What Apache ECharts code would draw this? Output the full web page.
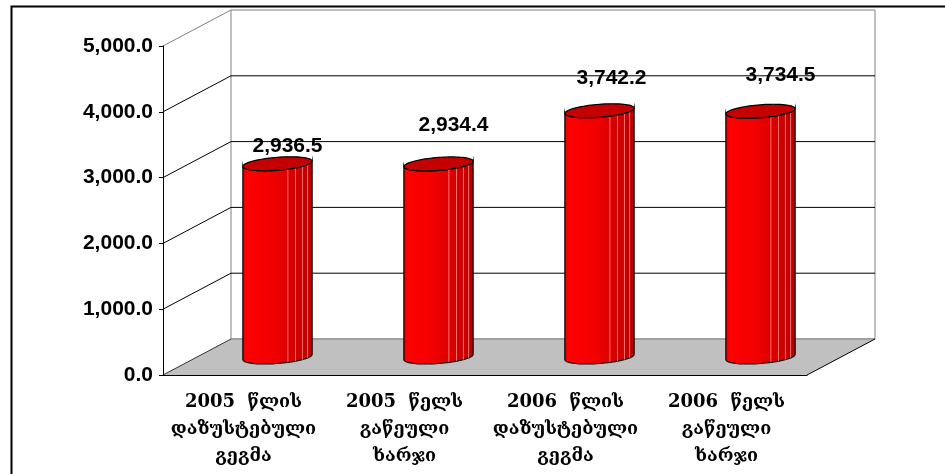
<!DOCTYPE html>
<html>
<head>
<meta charset="utf-8">
<script src="https://cdn.jsdelivr.net/npm/echarts@6/dist/echarts.min.js"></script>
<style>
  html, body { margin: 0; padding: 0; background: #fff; }
  #chart { width: 945px; height: 474px; }
</style>
</head>
<body>
<div id="chart"></div>
<script>
// data
const categories = [
  '2005  წლის\nდაზუსტებული\nგეგმა',
  '2005  წელს\nგაწეული\nხარჯი',
  '2006  წლის\nდაზუსტებული\nგეგმა',
  '2006  წელს\nგაწეული\nხარჯი'
]
const values = [2936.5, 2934.4, 3742.2, 3734.5]
const yTicks = [0, 1000, 2000, 3000, 4000, 5000]

// style: depth of the fake 3d box (px) and label nudges like the source
const DX = 68
const DY = -36
const labelNudge = [[10, -18], [15, -39], [12, -33], [20, -36]]

const fmt = v => v.toLocaleString('en-US', { minimumFractionDigits: 1, maximumFractionDigits: 1 })

const chart = echarts.init(document.getElementById('chart'))

// walls, floor and gridlines
const renderBox = (params, api) => {
  const cs = params.coordSys
  const x0 = cs.x
  const x1 = cs.x + cs.width
  const yb = api.coord([0, yTicks[0]])[1]
  const yt = api.coord([0, yTicks[yTicks.length - 1]])[1]
  const children = []
  // back wall
  children.push({
    type: 'rect',
    shape: { x: x0 + DX, y: yt + DY, width: cs.width, height: yb - yt },
    style: { fill: '#fff', stroke: '#808080', lineWidth: 1 }
  })
  // left wall top edge
  children.push({
    type: 'line',
    shape: { x1: x0, y1: yt, x2: x0 + DX, y2: yt + DY },
    style: { stroke: '#808080', lineWidth: 1 }
  })
  // gridlines
  yTicks.slice(1, -1).forEach(v => {
    const y = api.coord([0, v])[1]
    children.push({
      type: 'polyline',
      shape: { points: [[x0, y], [x0 + DX, y + DY], [x1 + DX, y + DY]] },
      style: { stroke: '#000', lineWidth: 1, fill: null }
    })
  })
  // floor
  children.push({
    type: 'polygon',
    shape: { points: [[x0, yb], [x1, yb], [x1 + DX, yb + DY], [x0 + DX, yb + DY]] },
    style: { fill: '#c0c0c0', stroke: null }
  })
  children.push({
    type: 'line',
    shape: { x1: x0 + DX, y1: yb + DY, x2: x1 + DX, y2: yb + DY },
    style: { stroke: '#808080', lineWidth: 1 }
  })
  children.push({
    type: 'line',
    shape: { x1: x0, y1: yb, x2: x0 + DX, y2: yb + DY },
    style: { stroke: '#333', lineWidth: 1 }
  })
  children.push({
    type: 'line',
    shape: { x1: x1, y1: yb, x2: x1 + DX, y2: yb + DY },
    style: { stroke: '#000', lineWidth: 1 }
  })
  return { type: 'group', children }
}

// cylinder for one bar
const renderCylinder = (params, api) => {
  const i = api.value(0)
  const v = api.value(1)
  const base = api.coord([i, 0])
  const top = api.coord([i, v])
  const band = api.size([1, 0])[0]
  const cx = base[0] + DX / 2
  const yb = base[1] + DY / 2
  const yt = top[1] + DY / 2
  const R = band * 0.215
  const a = 13
  const c = 7
  const r = Math.sqrt(R * R - a * a)
  const phi = Math.atan2(a, r)
  const pt = (t, y0) => [cx + r * Math.cos(t) + a * Math.sin(t), y0 - c * Math.sin(t)]
  const N = 40
  const body = []
  for (let k = 0; k <= N; k++) body.push(pt(phi + Math.PI + Math.PI * k / N, yt))
  for (let k = 0; k <= N; k++) body.push(pt(phi + 2 * Math.PI - Math.PI * k / N, yb))
  const cap = []
  for (let k = 0; k < 2 * N; k++) cap.push(pt(Math.PI * k / N, yt))

  const children = [{
    type: 'polygon',
    shape: { points: body },
    style: {
      fill: new echarts.graphic.LinearGradient(0, 0, 1, 0, [
        { offset: 0, color: '#e80000' },
        { offset: 0.06, color: '#ff0000' },
        { offset: 0.4, color: '#f40000' },
        { offset: 0.75, color: '#d40000' },
        { offset: 1, color: '#b80000' }
      ]),
      stroke: '#000',
      lineWidth: 1.2
    }
  }]
  // facet highlights
  ;[0.3, 0.52, 0.72, 0.87].forEach(k => {
    const t = phi - Math.acos(k)
    const p1 = pt(t, yt)
    const p2 = pt(t, yb)
    children.push({
      type: 'line',
      shape: { x1: p1[0], y1: p1[1], x2: p2[0], y2: p2[1] },
      style: { stroke: 'rgba(255,150,150,0.75)', lineWidth: 1 }
    })
  })
  children.push({
    type: 'polygon',
    shape: { points: cap },
    style: { fill: '#c40000', stroke: '#000', lineWidth: 1.2 }
  })
  const nudge = labelNudge[i]
  children.push({
    type: 'text',
    x: cx + nudge[0],
    y: yt + nudge[1],
    style: {
      text: fmt(v),
      fill: '#000',
      font: 'bold 21px "Liberation Sans", Arial, sans-serif',
      align: 'center',
      verticalAlign: 'middle'
    },
    z2: 10
  })
  return { type: 'group', children }
}

const option = {
  animation: false,
  graphic: [{
    type: 'rect',
    left: 9,
    top: 4,
    shape: { width: 960, height: 490 },
    style: { fill: null, stroke: '#000', lineWidth: 2 },
    z: -10
  }],
  grid: { left: 163, right: 138, top: 46, bottom: 99 },
  xAxis: {
    type: 'category',
    data: categories,
    axisLine: { lineStyle: { color: '#000', width: 1 } },
    axisTick: { length: 5, lineStyle: { color: '#000' } },
    axisLabel: {
      interval: 0,
      margin: 14,
      color: '#000',
      fontFamily: '"DejaVu Serif", "DejaVu Sans", serif',
      fontWeight: 'bold',
      fontSize: 18,
      lineHeight: 27
    },
    z: 5
  },
  yAxis: {
    type: 'value',
    min: 0,
    max: 5000,
    interval: 1000,
    axisLine: { show: true, lineStyle: { color: '#000', width: 1 } },
    axisTick: { show: true, length: 4, lineStyle: { color: '#000' } },
    splitLine: { show: false },
    axisLabel: {
      margin: 10,
      color: '#000',
      fontFamily: '"Liberation Sans", Arial, sans-serif',
      fontWeight: 'bold',
      fontSize: 21,
      formatter: fmt
    },
    z: 5
  },
  series: [
    {
      type: 'custom',
      renderItem: renderBox,
      data: [[0, 0]],
      clip: false,
      silent: true,
      z: 1
    },
    {
      type: 'custom',
      renderItem: renderCylinder,
      data: values.map((v, i) => [i, v]),
      clip: false,
      z: 3
    }
  ]
}

chart.setOption(option)
</script>
</body>
</html>
